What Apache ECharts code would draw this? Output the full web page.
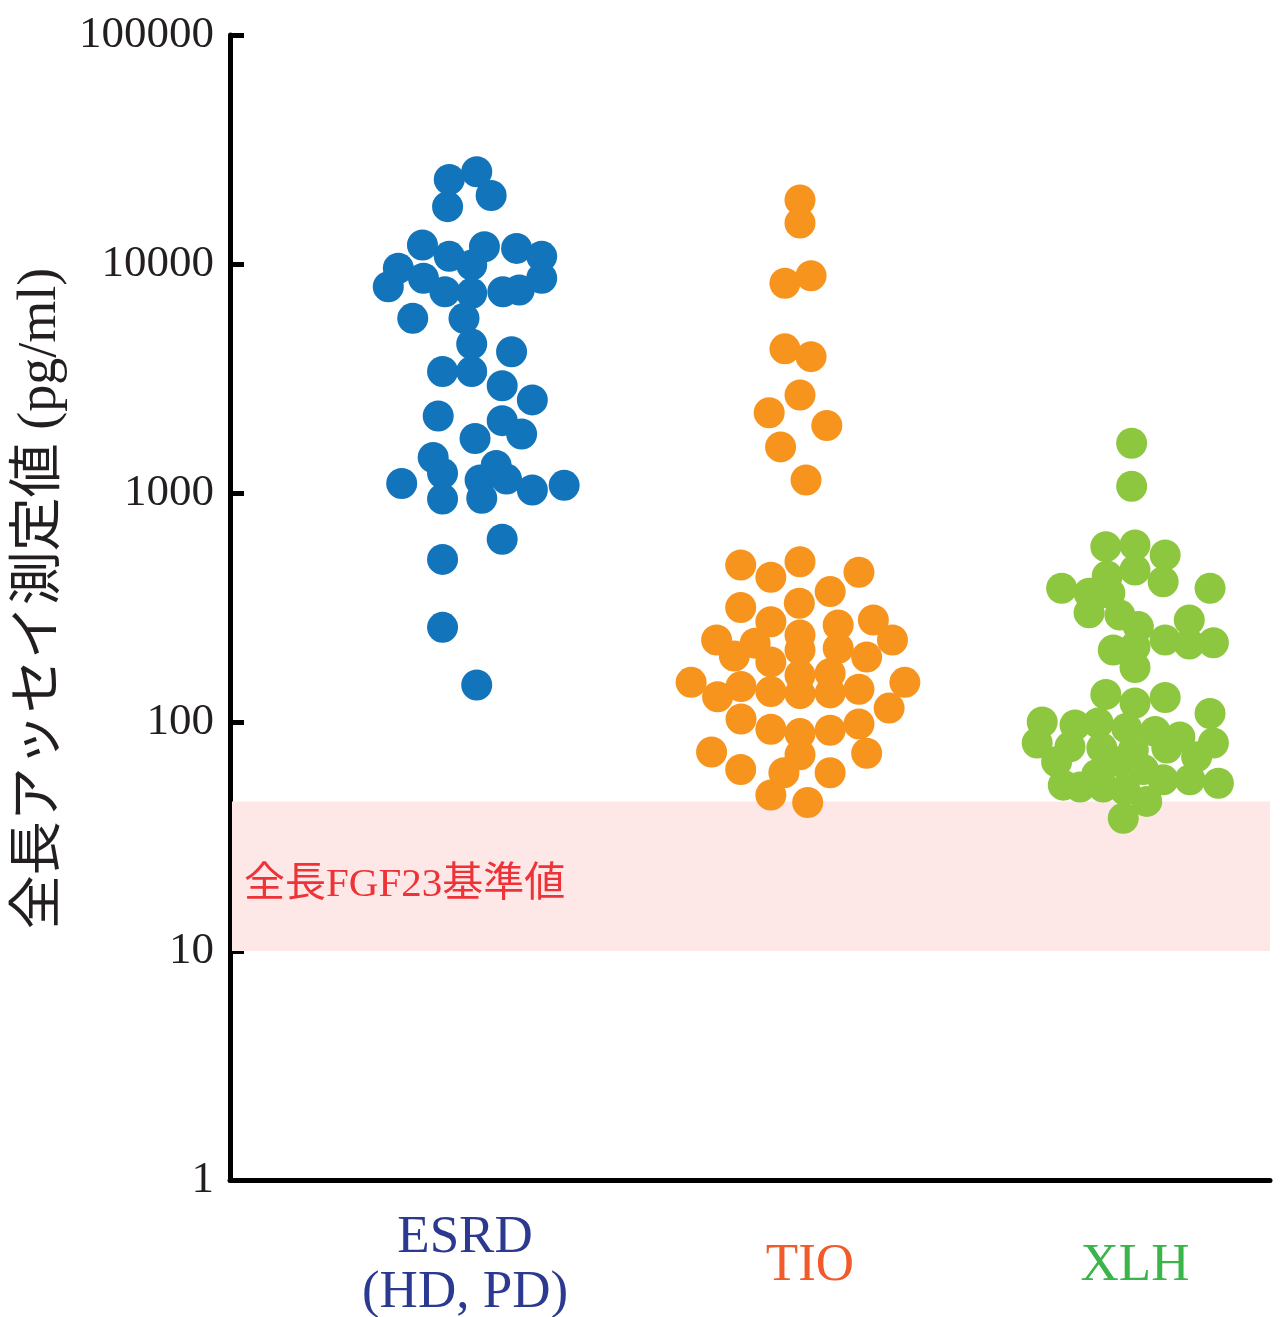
<!DOCTYPE html>
<html>
<head>
<meta charset="utf-8">
<script src="https://cdn.jsdelivr.net/npm/echarts@6/dist/echarts.min.js"></script>
<style>
  html, body { margin: 0; padding: 0; background: #ffffff; }
  #chart { width: 1280px; height: 1317px; }
</style>
</head>
<body>
<div id="chart"></div>
<script>
// Groups shown along the x axis
const categories = ['ESRD', 'TIO', 'XLH'];
const categoryLabels = ['ESRD\n(HD, PD)', 'TIO', 'XLH'];

// Full-length FGF23 (pg/ml) per patient, with horizontal swarm offsets (category units)
const esrdValues = [25300, 23400, 19900, 17800, 12100, 10800, 11900, 11700, 10800, 9580,
  9900, 8660, 7960, 7570, 7450, 7570, 7700, 8660, 5790, 5790,
  4470, 4140, 3390, 3390, 2940, 2550, 2170, 2070, 1810, 1730,
  1430, 1220, 1320, 1140, 1150, 1100, 942, 948, 1030, 1080,
  628, 513, 259, 145];
const esrdOffsets = [0.035, -0.047, 0.078, -0.052, -0.127, -0.047, 0.058, 0.154, 0.229, -0.199,
  0.020, -0.124, -0.229, -0.060, 0.020, 0.113, 0.162, 0.229, -0.156, -0.003,
  0.020, 0.139, -0.067, 0.020, 0.111, 0.201, -0.080, 0.111, 0.169, 0.030,
  -0.095, -0.067, 0.093, 0.045, 0.124, -0.189, -0.067, 0.050, 0.201, 0.296,
  0.111, -0.067, -0.067, 0.035];

const tioValues = [19030, 15100, 8240, 8890, 4260, 3940, 2680, 2240, 1970, 1590,
  1140, 485, 501, 429, 451, 371, 316, 330, 274, 279,
  265, 228, 240, 228, 221, 194, 206, 210, 192, 183,
  163, 160, 149, 149, 143, 129, 136, 133, 134, 139,
  115, 103, 93, 89, 92, 98, 74, 72, 73, 62,
  60, 60, 48, 44.5];
const tioOffsets = [0, 0, -0.045, 0.033, -0.045, 0.033, 0, -0.092, 0.080, -0.058,
  0.018, -0.177, 0, -0.087, 0.176, 0.090, -0.177, -0.002, -0.087, 0.219,
  0.114, -0.249, 0, 0.276, -0.134, -0.196, 0, 0.114, 0.199, -0.087,
  0.090, 0, -0.325, 0.313, -0.176, -0.246, -0.087, 0, 0.090, 0.176,
  0.266, -0.176, -0.087, 0, 0.090, 0.176, -0.264, 0, 0.199, -0.177,
  -0.048, 0.090, -0.087, 0.023];

const xlhValues = [1650, 1070, 583, 593, 536, 461, 434, 410, 384, 384,
  365, 365, 300, 293, 261, 279, 228, 222, 219, 206,
  213, 173, 132, 121, 128, 109, 100, 97, 99, 94,
  91, 86, 81, 81, 78, 77, 75.5, 77, 70.5, 67,
  67, 62, 59, 53, 52, 52, 56, 56, 54, 50.5,
  45, 38];
const xlhOffsets = [-0.010, -0.010, -0.087, 0, 0.090, 0, -0.083, 0.084, -0.219, 0.224,
  -0.137, -0.075, -0.137, -0.045, 0.010, 0.162, 0.090, 0.234, 0.162, -0.065,
  0, 0, -0.087, 0, 0.090, 0.224, -0.277, -0.179, -0.110, -0.025,
  0.060, 0.134, -0.292, 0.234, -0.194, -0.099, -0.005, 0.095, 0.184, -0.234,
  -0.045, 0.025, -0.114, -0.214, -0.164, -0.095, 0.084, 0.164, 0.249, -0.030,
  0.035, -0.035];

// Reference range for full-length FGF23 (pg/ml)
const referenceRange = [10, 45];
const referenceLabel = '全長FGF23基準値';

// Y axis tick values
const yTickValues = [1, 10, 100, 1000, 10000, 100000];

const groupColors = ['#1274bb', '#f7941e', '#8dc63f'];
const labelColors = ['#2b3990', '#f15a29', '#39b54a'];

const serif = '"Liberation Serif", "Times New Roman", "Noto Sans CJK JP", serif';

function toPoints(groupIndex, values, offsets) {
  return values.map((v, i) => [groupIndex + offsets[i], v]);
}

const groups = [
  toPoints(0, esrdValues, esrdOffsets),
  toPoints(1, tioValues, tioOffsets),
  toPoints(2, xlhValues, xlhOffsets)
];

const richStyles = {};
categories.forEach((c, i) => {
  richStyles['c' + i] = {
    color: labelColors[i],
    fontFamily: serif,
    fontSize: 53,
    lineHeight: 55,
    padding: i === 1 ? [0, 0, 0, 20] : 0
  };
});

const chart = echarts.init(document.getElementById('chart'), null, { renderer: 'canvas' });

const option = {
  backgroundColor: '#ffffff',
  animation: false,
  grid: { left: 230, right: 10, top: 35, bottom: 137, outerBoundsMode: 'none', containLabel: false },
  xAxis: {
    type: 'value',
    min: -0.7015,
    max: 2.403,
    splitLine: { show: false },
    axisTick: { show: false },
    axisLine: { show: true, onZero: false, lineStyle: { color: '#000000', width: 5 } },
    axisLabel: {
      show: true,
      customValues: [0, 1, 2],
      margin: 86,
      verticalAlign: 'middle',
      formatter: function (value) {
        const idx = Math.round(value);
        return categoryLabels[idx].split('\n').map(s => '{c' + idx + '|' + s + '}').join('\n');
      },
      rich: richStyles
    }
  },
  yAxis: {
    type: 'log',
    logBase: 10,
    min: yTickValues[0],
    max: yTickValues[yTickValues.length - 1],
    splitLine: { show: false },
    axisLine: { show: true, onZero: false, lineStyle: { color: '#000000', width: 5 } },
    axisTick: { show: true, inside: true, length: 14, lineStyle: { color: '#000000', width: 5 } },
    axisLabel: {
      color: '#231f20',
      fontFamily: serif,
      fontSize: 45,
      margin: 16,
      formatter: function (v) { return String(Math.round(v)); }
    },
    name: '全長アッセイ測定値 (pg/ml)',
    nameLocation: 'middle',
    nameRotate: 90,
    nameGap: 160,
    nameTextStyle: {
      color: '#231f20',
      fontFamily: serif,
      fontSize: 54,
      padding: [0, 0, 0, 18]
    }
  },
  series: [
    {
      name: 'reference',
      type: 'scatter',
      data: [],
      z: 1,
      silent: true,
      markArea: {
        silent: true,
        itemStyle: { color: '#fde7e7' },
        label: {
          show: true,
          position: 'insideLeft',
          distance: 12,
          offset: [0, 9],
          color: '#ee3338',
          fontFamily: serif,
          fontSize: 41
        },
        data: [[
          { name: referenceLabel, yAxis: referenceRange[1], x: 232 },
          { yAxis: referenceRange[0], xAxis: 2.403 }
        ]]
      }
    }
  ].concat(groups.map((pts, i) => ({
    name: categories[i],
    type: 'scatter',
    z: 3,
    symbol: 'circle',
    symbolSize: 31,
    itemStyle: { color: groupColors[i], opacity: 1 },
    data: pts
  })))
};

chart.setOption(option);
</script>
</body>
</html>
